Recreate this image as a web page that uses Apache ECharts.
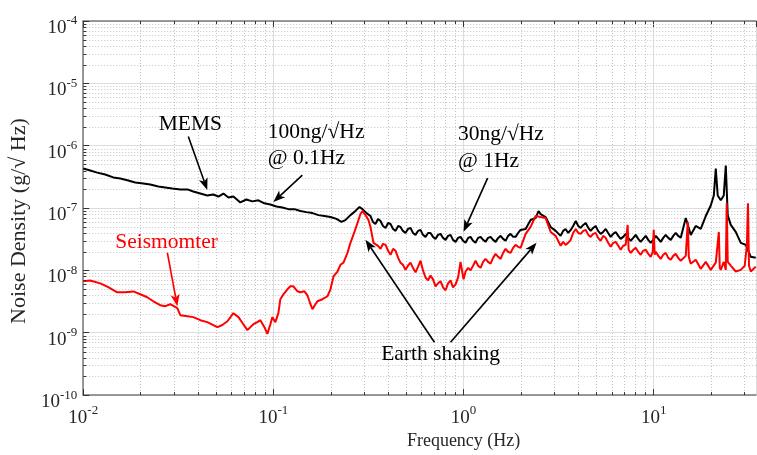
<!DOCTYPE html>
<html><head><meta charset="utf-8">
<script src="https://cdn.jsdelivr.net/npm/echarts@6/dist/echarts.min.js"></script>
<style>html,body{margin:0;padding:0;background:#fff}#c{width:757px;height:455px}</style>
</head><body><div id="c"></div>
<script>
// ---- data (frequency in Hz, noise density in g/sqrt(Hz)) ----
const xRange = [0.01, 34.5];
const yRange = [1e-10, 1e-4];
const xName = 'Frequency (Hz)';
const yName = 'Noise Density (g/\u221A Hz)';

const memsName = 'MEMS';
const memsData = [
[0.01,4.3e-7],[0.01088,4.0e-7],[0.01185,3.7e-7],[0.01305,3.45e-7],[0.01438,3.1e-7],[0.01566,2.98e-7],[0.01725,2.77e-7],[0.01878,2.57e-7],[0.0207,2.48e-7],[0.02252,2.39e-7],
[0.0248,2.22e-7],[0.027,2.14e-7],[0.0294,2.06e-7],[0.0324,1.99e-7],[0.0353,1.99e-7],[0.0379,1.84e-7],[0.0413,1.71e-7],[0.0449,1.59e-7],[0.0483,1.65e-7],[0.0514,1.53e-7],
[0.0546,1.71e-7],[0.058,1.48e-7],[0.0616,1.53e-7],[0.067,1.23e-7],[0.0721,1.37e-7],[0.0775,1.28e-7],[0.0834,1.33e-7],[0.0897,1.19e-7],[0.0964,1.14e-7],[0.1037,1.06e-7],
[0.1115,1.02e-7],[0.1199,9.6e-8],[0.129,9.6e-8],[0.1387,8.96e-8],[0.1492,8.6e-8],[0.1605,8.3e-8],[0.1725,7.7e-8],[0.1855,7.45e-8],[0.1995,7.2e-8],[0.2146,6.7e-8],
[0.228,6.0e-8],[0.239,6.4e-8],[0.2542,7.7e-8],[0.27,9.0e-8],[0.2836,1.04e-7],[0.294,9.6e-8],[0.3087,8.3e-8],
[0.324,7.45e-8],[0.344,5.56e-8],[0.366,6.2e-8],[0.389,4.8e-8],[0.413,5.56e-8],[0.439,4.3e-8],[0.466,4.98e-8],[0.495,3.99e-8],[0.526,4.8e-8],[0.559,3.71e-8],
[0.594,4.46e-8],[0.631,3.45e-8],[0.670,3.99e-8],[0.712,3.2e-8],[0.757,3.85e-8],[0.804,3.09e-8],[0.854,3.71e-8],[0.908,2.87e-8],[0.964,3.45e-8],[1.025,2.77e-8],
[1.088,3.45e-8],[1.156,2.77e-8],[1.229,3.45e-8],[1.305,2.87e-8],[1.387,3.45e-8],[1.474,2.87e-8],[1.566,3.58e-8],[1.663,2.98e-8],[1.767,3.85e-8],[1.878,3.45e-8],
[1.995,4.46e-8],[2.12,4.62e-8],[2.252,6.44e-8],[2.393,6.93e-8],[2.48,8.96e-8],[2.542,8.02e-8],[2.70,7.18e-8],[2.87,4.98e-8],[3.05,4.3e-8],[3.24,3.58e-8],
[3.44,4.62e-8],[3.66,4.46e-8],[3.89,6.2e-8],[4.13,4.8e-8],[4.39,5.76e-8],[4.66,4.3e-8],[4.95,5.16e-8],[5.26,3.85e-8],[5.59,4.62e-8],[5.94,3.45e-8],
[6.31,4.14e-8],[6.70,3.2e-8],[7.12,3.85e-8],[7.57,2.98e-8],[8.04,3.71e-8],[8.54,2.87e-8],[9.08,3.58e-8],[9.64,2.77e-8],[10.25,3.58e-8],[10.88,2.87e-8],
[11.56,3.71e-8],[12.29,3.09e-8],[13.05,3.99e-8],[13.87,3.33e-8],[14.74,6.93e-8],[15.66,3.71e-8],[16.63,5.16e-8],[17.67,4.62e-8],[18.78,7.45e-8],[19.95,1.1e-7],
[20.7,1.59e-7],[21.2,4.3e-7],[21.7,1.59e-7],[22.52,1.33e-7],[23.35,1.59e-7],[23.93,4.8e-7],[24.5,7.7e-8],[25.42,5.36e-8],[27.0,4.14e-8],[28.7,2.77e-8],
[30.5,2.57e-8],[32.4,1.65e-8],[34.4,1.59e-8]
];
// extra read-off points inside the noisy band of the MEMS trace
const memsExtra = [
[0.334,5.98e-8],[0.355,6.68e-8],[0.377,5.16e-8],[0.401,5.76e-8],[0.426,4.62e-8],[0.453,5.16e-8],[0.480,4.3e-8],[0.510,4.62e-8],[0.542,3.99e-8],[0.576,4.3e-8],
[0.612,3.71e-8],[0.651,3.99e-8],[0.691,3.45e-8],[0.734,3.71e-8],[0.780,3.32e-8],[0.829,3.58e-8],[0.880,3.09e-8],[0.936,3.32e-8],[0.994,2.98e-8],[1.057,3.32e-8],
[1.122,2.98e-8],[1.192,3.32e-8],[1.267,3.09e-8],[1.345,3.32e-8],[1.430,3.09e-8],[1.520,3.32e-8],[1.615,3.2e-8],[1.715,3.58e-8],[1.822,3.45e-8],[1.936,3.99e-8],
[3.34,4.3e-8],[3.55,3.99e-8],[3.77,5.16e-8],[4.01,5.16e-8],[4.26,5.36e-8],[4.53,4.8e-8],[4.80,4.8e-8],[5.10,4.3e-8],[5.42,4.14e-8],[5.76,3.99e-8],
[6.12,3.85e-8],[6.51,3.58e-8],[6.91,3.45e-8],[7.34,3.32e-8],[7.80,3.32e-8],[8.29,3.2e-8],[8.80,3.2e-8],[9.36,3.09e-8],[9.94,3.09e-8],[10.57,3.2e-8],
[11.22,3.32e-8],[11.92,3.32e-8],[12.67,3.58e-8],[13.45,3.58e-8]
];

const seisName = 'Seismomter';
const seisData = [
[0.01,6.7e-9],[0.01088,6.9e-9],[0.01229,6.2e-9],[0.01354,5.4e-9],[0.0151,4.46e-9],[0.01664,4.46e-9],[0.01833,4.6e-9],[0.01995,4.14e-9],[0.0217,3.71e-9],[0.02336,3.2e-9],
[0.02542,2.77e-9],[0.027,2.67e-9],[0.0287,2.87e-9],[0.03124,2.48e-9],[0.0324,1.91e-9],[0.0353,1.84e-9],[0.0379,1.78e-9],[0.0413,1.59e-9],[0.0449,1.48e-9],[0.0483,1.33e-9],
[0.0508,1.23e-9],[0.0539,1.33e-9],[0.0573,1.53e-9],[0.0616,2.06e-9],[0.0655,1.78e-9],[0.0695,1.37e-9],[0.073,1.1e-9],[0.0757,1.23e-9],[0.0785,1.37e-9],[0.0824,1.48e-9],
[0.0854,1.59e-9],[0.0897,1.23e-9],[0.093,9.6e-10],[0.0964,1.37e-9],[0.0988,1.78e-9],[0.1024,1.48e-9],[0.1062,2.06e-9],[0.1088,3.45e-9],[0.1129,4.14e-9],[0.1185,4.98e-9],
[0.1229,5.56e-9],[0.1274,5.56e-9],[0.1338,4.62e-9],[0.1387,4.46e-9],[0.1456,4.62e-9],[0.151,3.99e-9],[0.1566,2.87e-9],[0.1605,2.39e-9],[0.1664,2.87e-9],[0.1704,3.2e-9],
[0.1811,3.45e-9],[0.1924,3.85e-9],[0.1995,4.98e-9],[0.207,8.0e-9],[0.2172,9.6e-9],[0.2252,1.23e-8],[0.2336,1.33e-8],[0.2452,1.91e-8],[0.2542,2.77e-8],[0.2669,4.14e-8],
[0.2768,5.76e-8],[0.287,8.02e-8],[0.294,8.96e-8],[0.305,7.73e-8],[0.3162,6.44e-8],[0.324,4.98e-8],
[0.336,2.77e-8],[0.344,2.98e-8],[0.366,2.22e-8],[0.389,2.57e-8],[0.413,1.78e-8],[0.439,2.06e-8],[0.466,1.33e-8],[0.495,1.02e-8],[0.526,1.33e-8],[0.559,9.3e-9],
[0.594,1.43e-8],[0.631,7.7e-9],[0.670,8.3e-9],[0.712,5.56e-9],[0.757,6.7e-9],[0.804,4.8e-9],[0.854,6.9e-9],[0.908,5.98e-9],[0.964,1.37e-8],[1.0,7.2e-9],
[1.025,9.6e-9],[1.088,1.0e-8],[1.156,1.43e-8],[1.229,1.1e-8],[1.305,1.53e-8],[1.387,1.28e-8],[1.474,1.84e-8],[1.566,1.53e-8],[1.663,2.22e-8],[1.767,1.91e-8],
[1.878,2.57e-8],[1.995,2.3e-8],[2.12,3.85e-8],[2.252,4.98e-8],[2.393,7.45e-8],[2.542,7.18e-8],[2.70,6.93e-8],[2.87,4.14e-8],[3.05,3.58e-8],[3.24,2.48e-8],
[3.44,2.57e-8],[3.66,3.09e-8],[3.89,4.62e-8],[4.13,3.85e-8],[4.39,4.46e-8],[4.66,3.45e-8],[4.95,3.99e-8],[5.26,2.98e-8],[5.59,3.33e-8],[5.94,2.39e-8],
[6.31,2.87e-8],[6.70,2.14e-8],[7.12,2.57e-8],[7.29,5.36e-8],[7.38,2.14e-8],[7.57,1.91e-8],[8.04,2.3e-8],[8.54,1.78e-8],[9.08,2.14e-8],[9.64,1.65e-8],
[9.88,1.99e-8],[10.0,4.46e-8],[10.12,1.78e-8],[10.25,1.99e-8],[10.88,1.53e-8],[11.56,1.91e-8],[12.29,1.48e-8],[13.05,1.84e-8],[13.87,1.43e-8],[14.74,1.71e-8],
[15.1,6.0e-8],[15.29,1.65e-8],[15.66,1.28e-8],[16.63,1.48e-8],[17.67,1.06e-8],[18.78,1.37e-8],[19.95,1.02e-8],[21.2,1.33e-8],[22.0,4.14e-8],[22.25,1.1e-8],
[22.52,1.02e-8],[23.35,1.37e-8],[23.93,1.02e-8],[24.2,1.19e-7],[24.5,1.37e-8],[25.42,1.19e-8],[27.0,9.6e-9],[28.7,1.02e-8],[30.1,1.19e-8],[30.9,2.57e-8],
[31.3,1.19e-7],[31.7,1.19e-8],[32.4,9.6e-9],[34.4,1.15e-8]
];
// extra read-off points inside the noisy band of the seismometer trace
const seisExtra = [
[0.355,2.48e-8],[0.377,2.67e-8],[0.401,2.06e-8],[0.426,2.22e-8],[0.453,1.59e-8],[0.480,1.23e-8],[0.510,1.19e-8],[0.542,1.10e-8],[0.576,1.14e-8],[0.612,1.0e-8],
[0.651,6.93e-9],[0.691,7.18e-9],[0.734,6.2e-9],[0.780,5.36e-9],[0.829,6.2e-9],[0.880,5.36e-9],[0.936,7.73e-9],[1.057,1.10e-8],[1.122,1.19e-8],[1.192,1.19e-8],
[1.267,1.37e-8],[1.345,1.37e-8],[1.430,1.59e-8],[1.520,1.65e-8],[1.615,1.91e-8],[1.715,1.99e-8],[1.822,2.3e-8],[1.936,2.39e-8],
[3.34,2.87e-8],[3.55,2.77e-8],[3.77,3.99e-8],[4.01,3.99e-8],[4.26,4.3e-8],[4.53,3.71e-8],[4.80,3.85e-8],[5.10,3.32e-8],[5.42,3.58e-8],[5.76,2.77e-8],
[6.12,2.77e-8],[6.51,2.48e-8],[6.91,2.48e-8],[7.80,2.14e-8],[8.29,1.99e-8],[8.80,2.06e-8],[9.36,1.84e-8],[10.57,1.71e-8],[11.22,1.78e-8],[11.92,1.59e-8],
[12.67,1.71e-8],[13.45,1.59e-8]
];

// annotation texts: [text, freq, value, align, color]
const noteTexts = [
  ['MEMS', 0.0366, 2.19e-6, 'center', '#000'],
  ['100ng/\u221AHz', 0.0935, 1.64e-6, 'left', '#000'],
  ['@ 0.1Hz', 0.0935, 6.3e-7, 'left', '#000'],
  ['30ng/\u221AHz', 0.935, 1.52e-6, 'left', '#000'],
  ['@ 1Hz', 0.935, 5.64e-7, 'left', '#000'],
  ['Seismomter', 0.01474, 2.77e-8, 'left', '#ff0000'],
  ['Earth shaking', 0.757, 4.54e-10, 'center', '#000']
];
// arrows: [tailFreq, tailVal, tipFreq, tipVal, color]
const noteArrows = [
  [0.0357, 1.41e-6, 0.0449, 1.95e-7, '#000'],
  [0.142, 3.37e-7, 0.1, 1.25e-7, '#000'],
  [1.338, 3.02e-7, 1.0, 4.16e-8, '#000'],
  [0.0277, 1.92e-8, 0.03125, 2.65e-9, '#ff0000'],
  [0.703, 7.05e-10, 0.305, 3.1e-8, '#000'],
  [0.854, 7.05e-10, 2.42, 2.77e-8, '#000']
];

// ---- chart ----
const byFreq = (a, b) => a[0] - b[0];
const memsSeries = memsData.concat(memsExtra).sort(byFreq);
const seisSeries = seisData.concat(seisExtra).sort(byFreq);

const FONT = '"Liberation Serif","Times New Roman",serif';
const TXT = '#262626';
const supFmt = v => '{b|10}{s|' + Math.round(Math.log10(v)) + '}';
const rich = {
  b: {fontFamily: FONT, fontSize: 19, color: TXT, verticalAlign: 'bottom'},
  s: {fontFamily: FONT, fontSize: 13, color: TXT, verticalAlign: 'bottom', padding: [0, 0, 10, 0]}
};
const axisLineStyle = {color: '#7a7a7a', width: 1.5};

const chart = echarts.init(document.getElementById('c'));
chart.setOption({
  animation: false,
  backgroundColor: '#fff',
  grid: {left: 83, right: 1, top: 21, bottom: 59, containLabel: false},
  xAxis: [{
    type: 'log', logBase: 10, min: xRange[0], max: xRange[1],
    name: xName, nameLocation: 'middle', nameGap: 35,
    nameTextStyle: {fontFamily: FONT, fontSize: 18, color: TXT, padding: [0, 0, 0, 88]},
    axisLine: {show: true, lineStyle: axisLineStyle},
    axisTick: {show: true, inside: true, length: 6, lineStyle: {color: '#333', width: 1}},
    axisLabel: {formatter: supFmt, rich: rich, margin: 9, showMaxLabel: false},
    splitLine: {show: true, lineStyle: {color: '#dcdcdc', width: 1}},
    minorTick: {show: false}, minorSplitLine: {show: false}
  }, {
    type: 'log', logBase: 10, min: xRange[0], max: xRange[1], position: 'top',
    axisLine: {show: true, lineStyle: axisLineStyle},
    axisTick: {show: true, inside: true, length: 6, lineStyle: {color: '#333', width: 1}},
    axisLabel: {show: false}, splitLine: {show: false}
  }],
  yAxis: {
    type: 'log', logBase: 10, min: yRange[0], max: yRange[1],
    name: yName, nameLocation: 'middle', nameGap: 46,
    nameTextStyle: {fontFamily: FONT, fontSize: 22, color: TXT, padding: [0, 26, 0, 0]},
    axisLine: {show: true, lineStyle: axisLineStyle},
    axisTick: {show: true, inside: true, length: 6, lineStyle: {color: '#333', width: 1}},
    axisLabel: {formatter: supFmt, rich: rich, margin: 6, padding: [10, 0, 0, 0]},
    splitLine: {show: true, lineStyle: {color: '#dcdcdc', width: 1}}
  },
  series: [{
    name: memsName, type: 'line', data: memsSeries, showSymbol: false, symbol: 'none',
    lineStyle: {color: '#000', width: 2}, z: 3, silent: true
  }, {
    name: seisName, type: 'line', data: seisSeries, showSymbol: false, symbol: 'none',
    lineStyle: {color: '#ff0000', width: 2}, z: 4, silent: true
  }]
});

// ---- minor grid, minor ticks and annotations placed through the axes ----
const P = (f, v) => chart.convertToPixel({xAxisIndex: 0, yAxisIndex: 0}, [f, v]);
const [gx0, gy1] = P(xRange[0], yRange[0]);
const [gx1, gy0] = P(xRange[1], yRange[1]);
const els = [];
const dotted = {stroke: '#c4c4c4', lineWidth: 1, lineDash: [1, 2]};
const tickSt = {stroke: '#333', lineWidth: 1};
for (let k = -2; k <= 1; k++) {
  for (let m = 2; m <= 9; m++) {
    const f = m * Math.pow(10, k);
    if (f > xRange[1]) continue;
    const x = Math.round(P(f, 1e-7)[0]) + 0.5;
    els.push({type: 'line', z: 1, silent: true, shape: {x1: x, y1: gy0, x2: x, y2: gy1}, style: dotted});
    els.push({type: 'line', z: 5, silent: true, shape: {x1: x, y1: gy1, x2: x, y2: gy1 - 3}, style: tickSt});
    els.push({type: 'line', z: 5, silent: true, shape: {x1: x, y1: gy0, x2: x, y2: gy0 + 3}, style: tickSt});
  }
}
for (let k = -10; k <= -5; k++) {
  for (let m = 2; m <= 9; m++) {
    const v = m * Math.pow(10, k);
    const y = Math.round(P(1, v)[1]) + 0.5;
    els.push({type: 'line', z: 1, silent: true, shape: {x1: gx0, y1: y, x2: gx1, y2: y}, style: dotted});
    els.push({type: 'line', z: 5, silent: true, shape: {x1: gx0, y1: y, x2: gx0 + 3, y2: y}, style: tickSt});
  }
}
noteTexts.forEach(([t, f, v, al, col]) => {
  const [x, y] = P(f, v);
  els.push({type: 'text', z: 20, silent: true, x: x, y: y,
    style: {text: t, font: '21.5px ' + FONT, fill: col, align: al, verticalAlign: 'middle'}});
});
noteArrows.forEach(([f0, v0, f1, v1, col]) => {
  const [x0, y0] = P(f0, v0), [x1, y1] = P(f1, v1);
  const a = Math.atan2(y1 - y0, x1 - x0), c = Math.cos(a), s = Math.sin(a);
  const L = 12, W = 4.5;
  const bx = x1 - L * c, by = y1 - L * s;
  els.push({type: 'line', z: 20, silent: true, shape: {x1: x0, y1: y0, x2: bx + 3 * c, y2: by + 3 * s},
    style: {stroke: col, lineWidth: 1.6}});
  els.push({type: 'polygon', z: 20, silent: true, shape: {points: [
    [x1, y1], [bx - W * s, by + W * c], [bx + 3 * c, by + 3 * s], [bx + W * s, by - W * c]]},
    style: {fill: col}});
});
chart.setOption({graphic: {elements: els}});
</script></body></html>
